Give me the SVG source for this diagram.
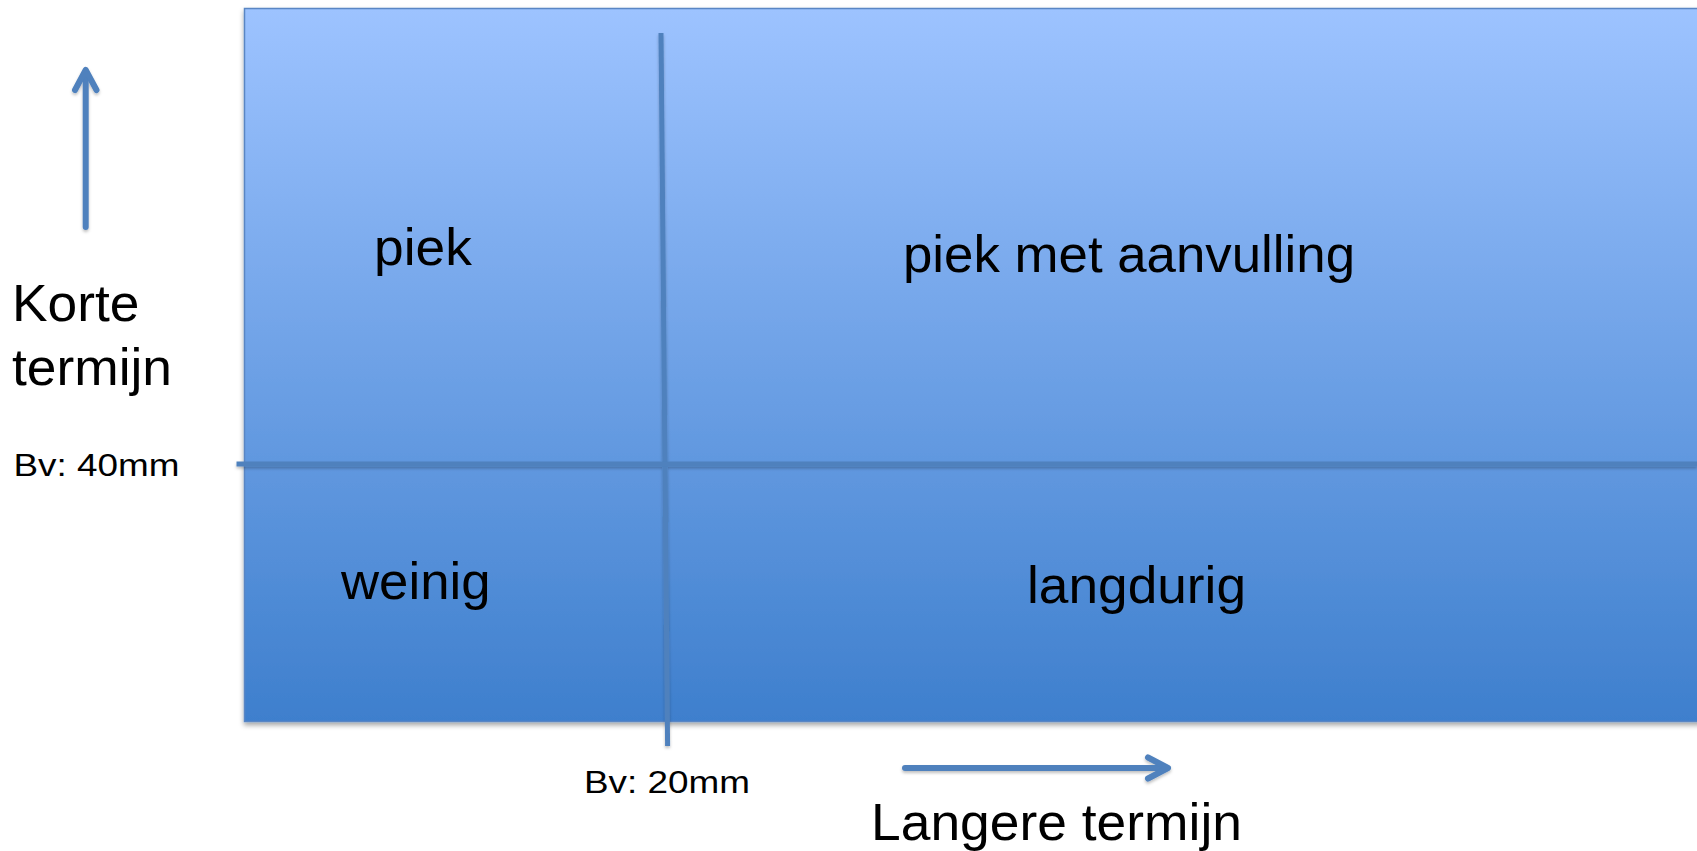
<svg xmlns="http://www.w3.org/2000/svg" width="1697" height="851" viewBox="0 0 1697 851">
<style>
.lbl{font-family:"Liberation Sans",Arial,sans-serif;fill:#000;font-size:52px}
.sm{font-family:"Liberation Sans",Arial,sans-serif;fill:#000;font-size:32px}
.ln{stroke:#4F81BD;fill:none;stroke-linecap:butt}
.ar{stroke:#4F81BD;fill:none;stroke-width:6;stroke-linecap:round;stroke-linejoin:round}
</style>
<defs>
<linearGradient id="g" x1="0" y1="0" x2="0" y2="1">
<stop offset="0" stop-color="#9DC3FF"/>
<stop offset="1" stop-color="#3E7FCD"/>
</linearGradient>
<filter id="sh" filterUnits="userSpaceOnUse" x="200" y="0" width="1600" height="760">
<feDropShadow dx="0" dy="3" stdDeviation="2.5" flood-color="#000" flood-opacity="0.35"/>
</filter>
<filter id="lsh" filterUnits="userSpaceOnUse" x="0" y="0" width="1697" height="851">
<feDropShadow dx="0" dy="2" stdDeviation="1.5" flood-color="#000" flood-opacity="0.25"/>
</filter>
</defs>
<g id="field">
<rect x="244.5" y="8.5" width="1470" height="713" fill="url(#g)" stroke="#5A86C4" stroke-width="1.5" filter="url(#sh)"/>
</g>
<g id="connectors" filter="url(#lsh)">
<line class="ln" x1="661" y1="33" x2="667.6" y2="746" stroke-width="5"/>
<line class="ln" x1="236.5" y1="464" x2="1697" y2="464" stroke-width="5"/>
<g class="ar">
<line x1="85.7" y1="227" x2="85.7" y2="72"/>
<polyline points="75,90 85.7,70 96.5,90"/>
<line x1="905" y1="768" x2="1166" y2="768"/>
<polyline points="1148,757.5 1168,768 1148,778.5"/>
</g>
</g>
<g id="node-korte">
<text class="lbl" x="12" y="321" textLength="127.5" lengthAdjust="spacingAndGlyphs">Korte</text>
<text class="lbl" x="12" y="385" textLength="160" lengthAdjust="spacingAndGlyphs">termijn</text>
</g>
<g id="node-bv40"><text class="sm" x="13.5" y="476" textLength="166" lengthAdjust="spacingAndGlyphs">Bv: 40mm</text></g>
<g id="node-piek"><text class="lbl" x="374" y="265" textLength="97.8" lengthAdjust="spacingAndGlyphs">piek</text></g>
<g id="node-piekmet"><text class="lbl" x="903" y="272" textLength="452" lengthAdjust="spacingAndGlyphs">piek met aanvulling</text></g>
<g id="node-weinig"><text class="lbl" x="341" y="598.5" textLength="149.5" lengthAdjust="spacingAndGlyphs">weinig</text></g>
<g id="node-langdurig"><text class="lbl" x="1027" y="603" textLength="219" lengthAdjust="spacingAndGlyphs">langdurig</text></g>
<g id="node-bv20"><text class="sm" x="584" y="793" textLength="166" lengthAdjust="spacingAndGlyphs">Bv: 20mm</text></g>
<g id="node-langere"><text class="lbl" x="871" y="840" textLength="371" lengthAdjust="spacingAndGlyphs">Langere termijn</text></g>
</svg>
